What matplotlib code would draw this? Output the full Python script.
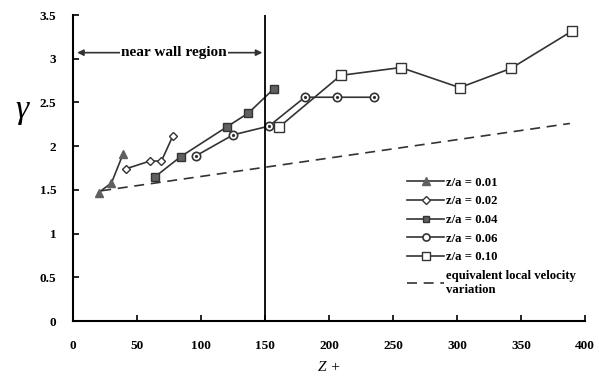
import matplotlib
matplotlib.use("Agg")
import matplotlib.pyplot as plt

# gamma vs Z+ for different z/a
x01 = [20, 30, 39]
y01 = [1.47, 1.58, 1.91]
x02 = [41, 60, 69, 78]
y02 = [1.74, 1.83, 1.83, 2.12]
x04 = [64, 84, 120, 137, 157]
y04 = [1.65, 1.88, 2.22, 2.38, 2.66]
x06 = [96, 125, 153, 181, 206, 235]
y06 = [1.89, 2.13, 2.23, 2.56, 2.56, 2.56]
x10 = [161, 209, 256, 302, 342, 390]
y10 = [2.22, 2.81, 2.90, 2.67, 2.89, 3.32]
xvel = [22, 388]
yvel = [1.49, 2.26]

xticks = [0, 50, 100, 150, 200, 250, 300, 350, 400]
yticks = [0, 0.5, 1, 1.5, 2, 2.5, 3, 3.5]
yticklabels = ["0", "0.5", "1", "1.5", "2", "2.5", "3", "3.5"]

plt.rcParams["font.family"] = ["Liberation Serif", "DejaVu Serif"]
plt.rcParams["font.weight"] = "bold"

fig = plt.figure(figsize=(5.99, 3.77), dpi=100)
ax = fig.add_axes([0.122, 0.1485, 0.855, 0.8115])

lc = "#333333"
fc = "#606060"
ax.plot(x01, y01, "-^", color=lc, mfc=fc, mec=fc, ms=6, lw=1.2, label="z/a = 0.01")
ax.plot(x02, y02, "-D", color=lc, mfc="white", mec=lc, ms=4.5, lw=1.2, label="z/a = 0.02")
ax.plot(x04, y04, "-s", color=lc, mfc=fc, mec=lc, ms=5.5, lw=1.2, label="z/a = 0.04")
ax.plot(x06, y06, "-o", color=lc, mfc="white", mec=lc, ms=6, mew=1.2, lw=1.2, label="z/a = 0.06")
ax.plot(x06, y06, "o", color=lc, ms=1.3)
ax.plot(x10, y10, "-s", color=lc, mfc="white", mec=lc, ms=6.5, lw=1.2, label="z/a = 0.10")
ax.plot(xvel, yvel, "--", color=lc, lw=1.2, dashes=(6, 4),
        label="equivalent local velocity\nvariation")

ax.axvline(150, color="black", lw=1.3)

ax.annotate("", xy=(1, 3.07), xytext=(150, 3.07),
            arrowprops=dict(arrowstyle="<|-|>", color=lc, lw=1.2, mutation_scale=9))
ax.text(79, 3.07, "near wall region", ha="center", va="center", fontsize=11,
        fontweight="bold", bbox=dict(facecolor="white", edgecolor="none", pad=1.0))

ax.set_xlim(0, 400)
ax.set_ylim(0, 3.5)
ax.set_xticks(xticks)
ax.set_yticks(yticks)
ax.set_yticklabels(yticklabels)
ax.tick_params(direction="in", length=4, width=1.2, labelsize=9.5, pad=14)
ax.tick_params(axis="y", pad=12)
for s in ["top", "right"]:
    ax.spines[s].set_visible(False)
for s in ["left", "bottom"]:
    ax.spines[s].set_linewidth(1.5)

ax.set_xlabel("Z +", fontsize=11, fontweight="normal", fontstyle="italic", labelpad=6)
fig.text(0.037, 0.71, "γ", fontsize=24, fontstyle="italic", fontweight="normal",
         ha="center", va="center")

leg = ax.legend(loc="upper left", bbox_to_anchor=(0.642, 0.488), frameon=False,
                fontsize=9.2, handlelength=2.9, handletextpad=0.15,
                labelspacing=0.52, borderaxespad=0, markerscale=0.85)

fig.savefig("out.png", dpi=100)
